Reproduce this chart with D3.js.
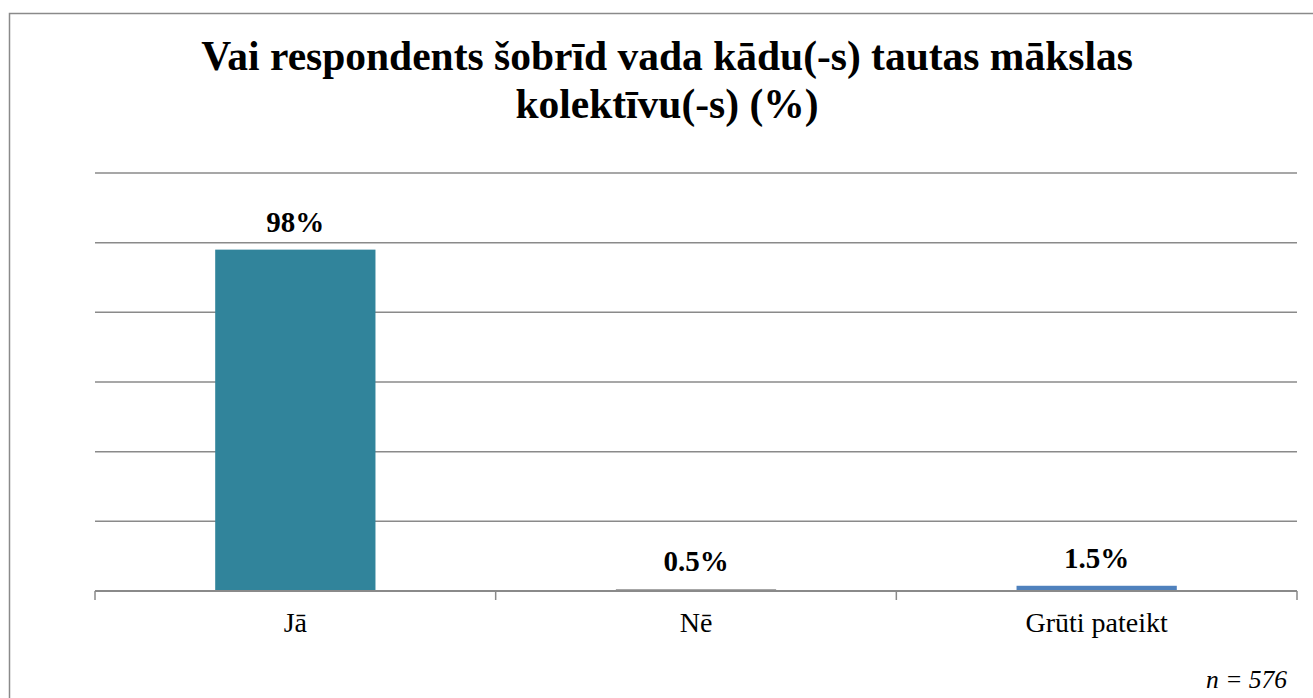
<!DOCTYPE html>
<html>
<head>
<meta charset="utf-8">
<script src="https://cdn.jsdelivr.net/npm/d3@7"></script>
<style>
  html, body { margin: 0; padding: 0; background: #fff; }
  svg { display: block; }
  svg text { font-family: 'Liberation Serif', 'Times New Roman', serif; }
</style>
</head>
<body>
<svg id="chart" width="1313" height="698"></svg>
<script>
// data
const categories = ['Jā', 'Nē', 'Grūti pateikt'];
const values = [98, 0.5, 1.5];
const labels = ['98%', '0.5%', '1.5%'];
const barColors = ['#31849B', '#8a8a8a', '#4F81BD'];
const gridTicks = [20, 40, 60, 80, 100, 120];
const titleLines = ['Vai respondents šobrīd vada kādu(-s) tautas mākslas', 'kolektīvu(-s) (%)'];
const note = 'n = 576';

const svg = d3.select('#chart');

// outer frame
svg.append('rect')
  .attr('x', 9.5).attr('y', 13.5)
  .attr('width', 1320).attr('height', 700)
  .attr('fill', 'none')
  .attr('stroke', '#8a8a8a')
  .attr('stroke-width', 1.5);

// title
svg.append('g')
  .selectAll('text')
  .data(titleLines)
  .enter()
  .append('text')
  .attr('x', 667)
  .attr('y', (d, i) => 70 + i * 48)
  .attr('text-anchor', 'middle')
  .style('font-weight', 'bold')
  .style('font-size', '41.5px')
  .attr('fill', '#000')
  .text(d => d);

const x = d3.scaleBand()
  .domain(categories)
  .range([95, 1297])
  .paddingInner(0.6)
  .paddingOuter(0.3);

const y = d3.scaleLinear()
  .domain([0, 120])
  .range([591, 173]);

// gridlines
svg.append('g')
  .selectAll('line')
  .data(gridTicks)
  .enter()
  .append('line')
  .attr('x1', 95).attr('x2', 1297)
  .attr('y1', d => y(d)).attr('y2', d => y(d))
  .attr('stroke', '#8a8a8a')
  .attr('stroke-width', 1.5);

// bars
svg.append('g')
  .selectAll('rect')
  .data(values)
  .enter()
  .append('rect')
  .attr('x', (d, i) => x(categories[i]))
  .attr('width', x.bandwidth())
  .attr('y', d => y(d))
  .attr('height', d => y(0) - y(d))
  .attr('fill', (d, i) => barColors[i]);

// category axis
const step = x.step();
const boundaries = d3.range(categories.length + 1).map(i => 95 + i * step);
svg.append('line')
  .attr('x1', 95).attr('x2', 1297)
  .attr('y1', y(0)).attr('y2', y(0))
  .attr('stroke', '#8a8a8a')
  .attr('stroke-width', 2);
svg.append('g')
  .selectAll('line')
  .data(boundaries)
  .enter()
  .append('line')
  .attr('x1', d => d).attr('x2', d => d)
  .attr('y1', y(0)).attr('y2', y(0) + 9)
  .attr('stroke', '#8a8a8a')
  .attr('stroke-width', 1.5);

svg.append('g')
  .selectAll('text')
  .data(categories)
  .enter()
  .append('text')
  .attr('x', d => x(d) + x.bandwidth() / 2)
  .attr('y', 632)
  .attr('text-anchor', 'middle')
  .style('font-size', '28px')
  .attr('fill', '#000')
  .text(d => d);

// value labels
svg.append('g')
  .selectAll('text')
  .data(values)
  .enter()
  .append('text')
  .attr('x', (d, i) => x(categories[i]) + x.bandwidth() / 2)
  .attr('y', d => y(d) - 18)
  .attr('text-anchor', 'middle')
  .style('font-weight', 'bold')
  .style('font-size', '29px')
  .attr('fill', '#000')
  .text((d, i) => labels[i]);

// sample size note
svg.append('text')
  .attr('x', 1287)
  .attr('y', 688)
  .attr('text-anchor', 'end')
  .style('font-style', 'italic')
  .style('font-size', '25.5px')
  .attr('fill', '#000')
  .text(note);
</script>
</body>
</html>
